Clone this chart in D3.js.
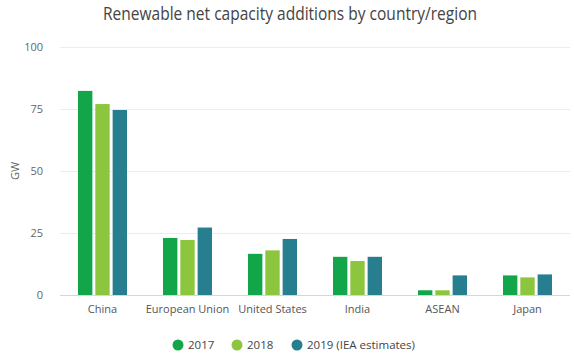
<!DOCTYPE html>
<html>
<head>
<meta charset="utf-8">
<script src="https://cdn.jsdelivr.net/npm/d3@7"></script>
<style>
  body { margin: 0; background: #fff; }
  svg { display: block; font-family: "Open Sans", "Noto Sans", sans-serif; }
</style>
</head>
<body>
<svg id="chart" width="574" height="356"></svg>
<script>
const categories = ["China", "European Union", "United States", "India", "ASEAN", "Japan"];
const seriesNames = ["2017", "2018", "2019 (IEA estimates)"];
const values2017 = [82.3, 23.0, 16.6, 15.4, 1.9, 7.9];
const values2018 = [77.0, 22.2, 18.0, 13.7, 1.9, 7.1];
const values2019 = [74.6, 27.2, 22.6, 15.4, 7.9, 8.3];
const yTicks = [0, 25, 50, 75, 100];
const colors = ["#12a54a", "#8cc63e", "#267e8f"];

const series = [values2017, values2018, values2019];
const svg = d3.select("#chart");

const x0 = d3.scaleBand().domain(categories).range([60, 570]);
const x1 = d3.scaleBand().domain(d3.range(3)).range([18, 67]).paddingInner(0.17);
const y = d3.scaleLinear().domain([0, 100]).range([295, 47]);

// title
svg.append("text")
  .attr("x", 290).attr("y", 20)
  .attr("text-anchor", "middle")
  .attr("font-size", 18)
  .attr("textLength", 374)
  .attr("lengthAdjust", "spacingAndGlyphs")
  .attr("fill", "#444")
  .text("Renewable net capacity additions by country/region");

// gridlines + y ticks
const yAxis = d3.axisLeft(y).tickValues(yTicks).tickSize(-510).tickPadding(17);
const gy = svg.append("g").attr("transform", "translate(60,0)").call(yAxis);
gy.select(".domain").remove();
gy.selectAll(".tick line").attr("stroke", d => d === 0 ? "#d6d6d6" : "#ececec").attr("stroke-width", 1);
gy.selectAll(".tick text").attr("fill", "#666").attr("font-size", 11).attr("font-family", "'Open Sans', sans-serif");

// y label
svg.append("text")
  .attr("transform", "translate(19,171) rotate(-90)")
  .attr("text-anchor", "middle")
  .attr("font-size", 11)
  .attr("fill", "#666")
  .text("GW");

// bars
const groups = svg.append("g").selectAll("g")
  .data(categories)
  .join("g")
  .attr("transform", d => `translate(${x0(d)},0)`);

groups.selectAll("rect")
  .data((d, i) => series.map((s, k) => ({k, v: s[i]})))
  .join("rect")
  .attr("x", d => x1(d.k))
  .attr("width", x1.bandwidth())
  .attr("y", d => y(d.v))
  .attr("height", d => y(0) - y(d.v))
  .attr("fill", d => colors[d.k]);

// x axis labels
const xAxis = d3.axisBottom(x0).tickSize(0).tickPadding(10);
const gx = svg.append("g").attr("transform", "translate(0,295)").call(xAxis);
gx.select(".domain").remove();
gx.selectAll(".tick text").attr("fill", "#555").attr("font-size", 11).attr("font-family", "'Open Sans', sans-serif");

// legend
const legendX = [178, 237, 297];
const legend = svg.append("g");
seriesNames.forEach((name, i) => {
  legend.append("circle")
    .attr("cx", legendX[i]).attr("cy", 345).attr("r", 5.5)
    .attr("fill", colors[i]);
  legend.append("text")
    .attr("x", legendX[i] + 10).attr("y", 349)
    .attr("font-size", 11.5)
    .attr("fill", "#444")
    .text(name);
});
</script>
</body>
</html>
